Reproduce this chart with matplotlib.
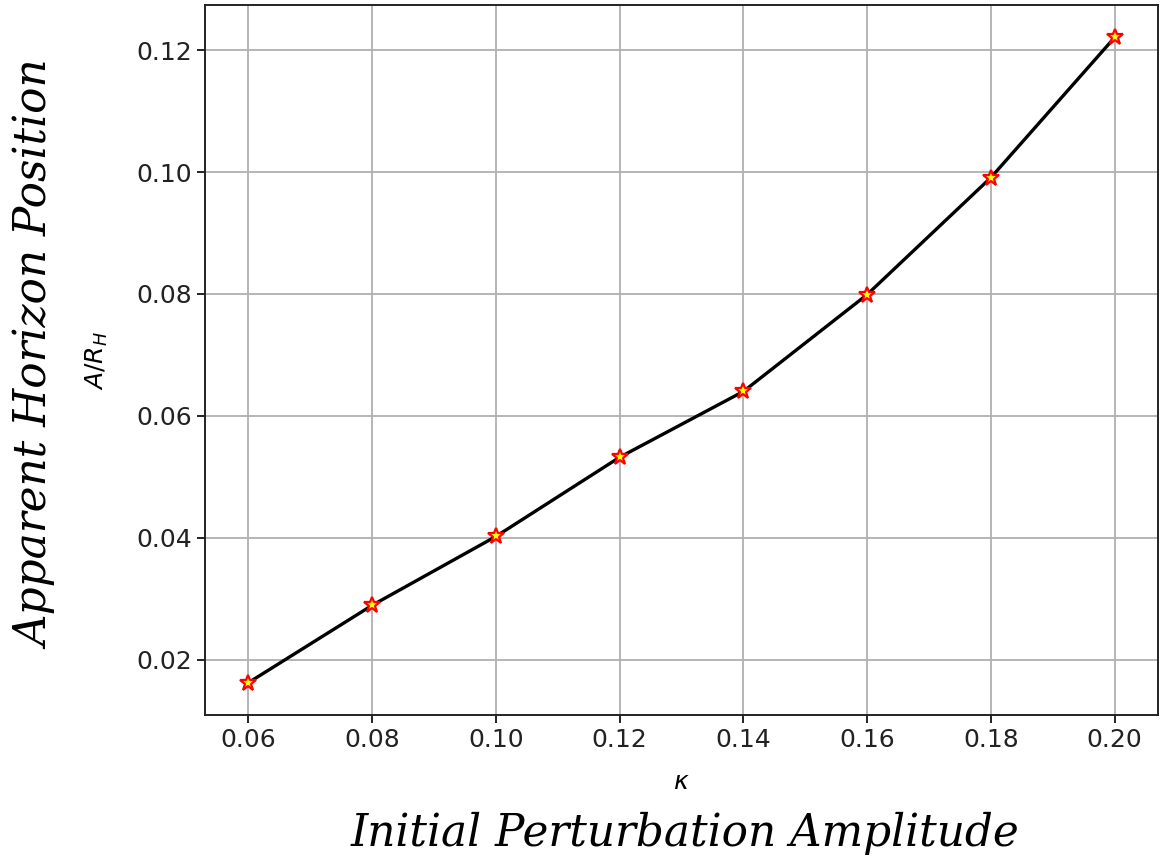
import numpy as np
import matplotlib.pyplot as plt

kappa = [0.06, 0.08, 0.10, 0.12, 0.14, 0.16, 0.18, 0.20]
horizon = [0.0162, 0.0289, 0.0402, 0.0532, 0.0640, 0.0799, 0.0991, 0.1221]
x_ticks = [0.06, 0.08, 0.10, 0.12, 0.14, 0.16, 0.18, 0.20]

fig = plt.figure(figsize=(11.75, 8.61), dpi=100)
ax = fig.add_axes([0.1745, 0.1696, 0.811, 0.8244])

ax.plot(kappa, horizon, color='black', lw=2.4, zorder=2)
ax.plot(kappa, horizon, ls='none', marker='*', ms=12, mfc='yellow', mec='red', mew=1.6, zorder=3)

ax.set_xticks(x_ticks)
ax.set_xticklabels([f"{t:.2f}" for t in x_ticks])
ax.tick_params(labelsize=18, length=6, width=1.4, colors='#222222')
ax.grid(True, color='#b0b0b0', lw=1.3)
for s in ax.spines.values():
    s.set_linewidth(1.4)
    s.set_color('#222222')

ax.set_xlabel(r'$\kappa$', fontsize=18)
ax.set_ylabel(r'$A/R_H$', fontsize=18)
ax.yaxis.set_label_coords(-0.1, 0.5)
ax.xaxis.set_label_coords(0.5, -0.078)

fig.text(0.031, 0.588, 'Apparent Horizon Position', rotation=90, ha='center', va='center',
         family='DejaVu Serif', style='italic', fontsize=31.5)
fig.text(0.583, 0.0325, 'Initial Perturbation Amplitude', ha='center', va='center',
         family='DejaVu Serif', style='italic', fontsize=31.5)

fig.savefig('out.png', dpi=100)
